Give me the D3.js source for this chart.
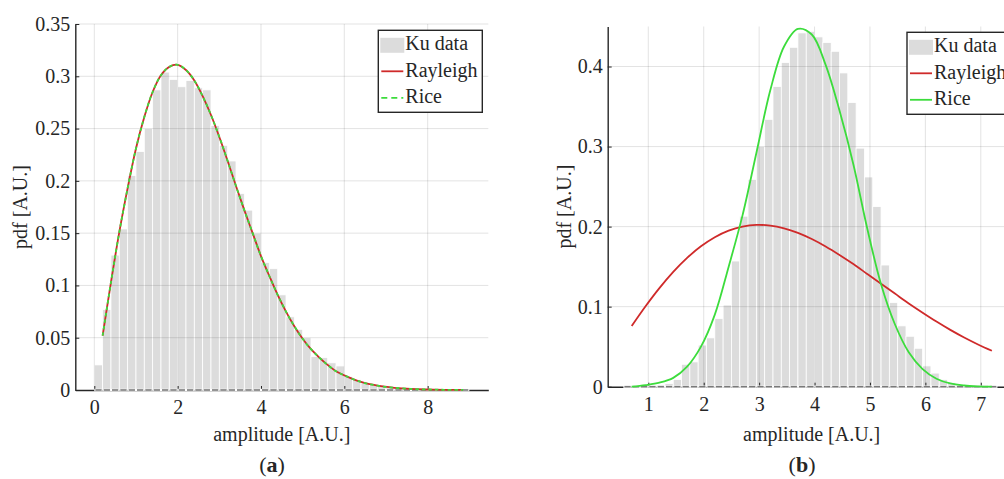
<!DOCTYPE html>
<html>
<head>
<meta charset="utf-8">
<script src="https://cdn.jsdelivr.net/npm/d3@7"></script>
<style>
  body { margin: 0; background: #fff; }
  svg text { font-family: "Liberation Serif", "Times New Roman", serif; fill: #262626; }
</style>
</head>
<body>
<svg id="fig" width="1004" height="479"></svg>
<script>
// ---------- Panel (a) ----------
// Ku amplitude histogram (pdf normalised), bins of 0.2 starting at 0
const histA_start = 0;
const histA_width = 0.2;
const histA_pdf = [
  0.024, 0.077, 0.129, 0.154, 0.205, 0.228, 0.250, 0.287, 0.304, 0.297,
  0.290, 0.296, 0.289, 0.287, 0.253, 0.234, 0.219, 0.188, 0.172, 0.150,
  0.122, 0.116, 0.091, 0.070, 0.058, 0.050, 0.032, 0.031, 0.026, 0.023,
  0.013, 0.010, 0.007, 0.005, 0.004, 0.003, 0.002, 0.001, 0.001, 0.0005,
  0, 0, 0, 0, 0
];
// fitted curves for panel (a)
const fitA_x = [
  0.2, 0.4, 0.6, 0.8, 1.0, 1.2, 1.4, 1.6, 1.8, 2.0,
  2.2, 2.4, 2.6, 2.8, 3.0, 3.2, 3.4, 3.6, 3.8, 4.0,
  4.2, 4.4, 4.6, 4.8, 5.0, 5.2, 5.4, 5.6, 5.8, 6.0,
  6.4, 6.8, 7.2, 7.6, 8.0, 8.4, 8.85
];
const rayleighA = [
  0.052, 0.103, 0.151, 0.193, 0.231, 0.261, 0.285, 0.301, 0.309, 0.311,
  0.306, 0.296, 0.281, 0.263, 0.242, 0.219, 0.195, 0.172, 0.150, 0.128,
  0.109, 0.091, 0.075, 0.061, 0.049, 0.039, 0.031, 0.024, 0.018, 0.014,
  0.0077, 0.0041, 0.0021, 0.0010, 0.0005, 0.0002, 0.0001
];
const riceA = [
  0.052, 0.103, 0.151, 0.193, 0.231, 0.261, 0.285, 0.301, 0.309, 0.311,
  0.306, 0.296, 0.281, 0.263, 0.242, 0.219, 0.195, 0.172, 0.150, 0.128,
  0.109, 0.091, 0.075, 0.061, 0.049, 0.039, 0.031, 0.024, 0.018, 0.014,
  0.0077, 0.0041, 0.0021, 0.0010, 0.0005, 0.0002, 0.0001
];
const ticksA_x = [0, 2, 4, 6, 8];
const ticksA_y = [0, 0.05, 0.1, 0.15, 0.2, 0.25, 0.3, 0.35];
const tickLabelsA_y = ["0", "0.05", "0.1", "0.15", "0.2", "0.25", "0.3", "0.35"];

// ---------- Panel (b) ----------
// Ku amplitude histogram, bins of 0.15 starting at 0.55
const histB_start = 0.55;
const histB_width = 0.15;
const histB_pdf = [
  0, 0, 0, 0.001, 0.002, 0.004, 0.009, 0.028, 0.031, 0.052,
  0.061, 0.085, 0.102, 0.157, 0.213, 0.259, 0.300, 0.334, 0.375, 0.405,
  0.424, 0.442, 0.444, 0.437, 0.430, 0.419, 0.392, 0.355, 0.298, 0.262,
  0.225, 0.152, 0.105, 0.076, 0.063, 0.048, 0.026, 0.017, 0.009, 0.005,
  0.002, 0.001, 0.0005, 0, 0
];
const fitB_x = [
  0.70, 0.95, 1.20, 1.45, 1.70, 1.95, 2.20, 2.45, 2.70, 2.95,
  3.20, 3.45, 3.70, 3.95, 4.20, 4.45, 4.70, 4.95, 5.20, 5.45,
  5.70, 5.95, 6.20, 6.45, 6.70, 6.95, 7.20
];
const rayleighB = [
  0.0757, 0.1004, 0.1231, 0.1434, 0.1609, 0.1754, 0.1868, 0.1950, 0.2000, 0.2021,
  0.2013, 0.1979, 0.1922, 0.1845, 0.1752, 0.1646, 0.1532, 0.1409, 0.1286, 0.1163,
  0.1040, 0.0925, 0.0814, 0.0710, 0.0615, 0.0528, 0.0449
];
const riceB = [
  0.000, 0.002, 0.005, 0.011, 0.025, 0.050, 0.090, 0.150, 0.214, 0.292,
  0.370, 0.425, 0.447, 0.440, 0.402, 0.345, 0.278, 0.198, 0.128, 0.078,
  0.043, 0.022, 0.010, 0.004, 0.0015, 0.0005, 0.0002
];
const ticksB_x = [1, 2, 3, 4, 5, 6, 7];
const ticksB_y = [0, 0.1, 0.2, 0.3, 0.4];
const tickLabelsB_y = ["0", "0.1", "0.2", "0.3", "0.4"];

const legendLabels = ["Ku data", "Rayleigh", "Rice"];

// ---------- drawing ----------
const svg = d3.select("#fig");
const INK = "#262626";
const RED = "#cf2a2a";
const GREEN = "#3cdc3c";

function panel(cfg) {
  const g = svg.append("g");
  const x = d3.scaleLinear().domain(cfg.xDomain).range(cfg.xRange);
  const y = d3.scaleLinear().domain(cfg.yDomain).range(cfg.yRange);
  const y0 = y(0);

  // histogram bins
  const bins = cfg.hist.map((v, i) => ({
    x0: cfg.histStart + i * cfg.histWidth,
    x1: cfg.histStart + (i + 1) * cfg.histWidth,
    v
  }));

  const xAxis = d3.axisBottom(x).tickValues(cfg.xTicks).tickFormat(d3.format("~g"))
    .tickSizeInner(-4).tickSizeOuter(0).tickPadding(10);
  const yAxis = d3.axisLeft(y).tickValues(cfg.yTicks).tickFormat((d, i) => cfg.yTickLabels[i])
    .tickSizeInner(-4).tickSizeOuter(0).tickPadding(5);

  g.append("g").selectAll("rect").data(bins).join("rect")
    .attr("x", d => x(d.x0))
    .attr("width", d => x(d.x1) - x(d.x0))
    .attr("y", d => y(d.v))
    .attr("height", d => y0 - y(d.v))
    .attr("fill", "#dcdcdc")
    .attr("stroke", "#fff")
    .attr("stroke-width", 0.8);

  // grid
  const grid = g.append("g").attr("stroke", INK).attr("stroke-opacity", 0.13).attr("stroke-width", 1);
  grid.selectAll("line.gx").data(cfg.xTicks).join("line")
    .attr("x1", d => x(d)).attr("x2", d => x(d))
    .attr("y1", cfg.yRange[0]).attr("y2", cfg.yRange[1]);
  grid.selectAll("line.gy").data(cfg.yTicks.filter(d => d > 0)).join("line")
    .attr("x1", cfg.xRange[0]).attr("x2", cfg.xRange[1])
    .attr("y1", d => y(d)).attr("y2", d => y(d));

  const ax = g.append("g").attr("transform", `translate(0,${y0})`).call(xAxis);
  const ay = g.append("g").attr("transform", `translate(${cfg.xRange[0]},0)`).call(yAxis);
  [ax, ay].forEach(a => {
    a.select(".domain").attr("stroke", INK).attr("stroke-width", 1.4);
    a.selectAll(".tick line").attr("stroke", INK).attr("stroke-width", 1);
    a.selectAll(".tick text").attr("fill", INK).style("font-size", "20px")
      .style("font-family", '"Liberation Serif", serif');
  });

  // bottom edges of the bars over the baseline
  const base = g.append("g");
  base.selectAll("line.w").data(bins).join("line")
    .attr("x1", d => x(d.x0)).attr("x2", d => x(d.x1))
    .attr("y1", y0).attr("y2", y0)
    .attr("stroke", "#fff").attr("stroke-width", 2.4);
  base.selectAll("line.k").data(bins).join("line")
    .attr("x1", d => x(d.x0) + 1).attr("x2", d => x(d.x1) - 1)
    .attr("y1", y0).attr("y2", y0)
    .attr("stroke", "#7a7a7a").attr("stroke-width", 1.6);

  // fitted curves
  const line = d3.line().x(d => x(d[0])).y(d => y(d[1])).curve(d3.curveCatmullRom.alpha(0.5));
  g.append("path").datum(cfg.fitX.map((v, i) => [v, cfg.rayleigh[i]]))
    .attr("d", line).attr("fill", "none").attr("stroke", RED).attr("stroke-width", 1.8);
  g.append("path").datum(cfg.fitX.map((v, i) => [v, cfg.rice[i]]))
    .attr("d", line).attr("fill", "none").attr("stroke", GREEN).attr("stroke-width", 1.8)
    .attr("stroke-dasharray", cfg.riceDash || null);

  // axis titles
  g.append("text")
    .attr("x", (cfg.xRange[0] + cfg.xRange[1]) / 2).attr("y", 441)
    .attr("text-anchor", "middle").style("font-size", "20px")
    .text("amplitude [A.U.]");
  g.append("text")
    .attr("transform", `translate(${cfg.yTitleX},${(cfg.yRange[0] + cfg.yRange[1]) / 2}) rotate(-90)`)
    .attr("text-anchor", "middle").style("font-size", "20px")
    .text("pdf [A.U.]");

  // legend
  const lg = g.append("g").attr("transform", `translate(${cfg.legend[0]},${cfg.legend[1]})`);
  lg.append("rect").attr("x", 0).attr("y", 0).attr("width", 104).attr("height", 82)
    .attr("fill", "#fff").attr("stroke", INK).attr("stroke-width", 1.4);
  lg.append("rect").attr("x", 2).attr("y", 7.5).attr("width", 24).attr("height", 15).attr("fill", "#dcdcdc");
  lg.append("line").attr("x1", 3).attr("x2", 25).attr("y1", 41).attr("y2", 41)
    .attr("stroke", RED).attr("stroke-width", 1.8);
  lg.append("line").attr("x1", 3).attr("x2", 25).attr("y1", 67.5).attr("y2", 67.5)
    .attr("stroke", GREEN).attr("stroke-width", 1.8)
    .attr("stroke-dasharray", cfg.riceLegendDash || null);
  lg.selectAll("text").data(legendLabels).join("text")
    .attr("x", 27).attr("y", (d, i) => 20 + i * 26.4)
    .style("font-size", "20px").text(d => d);

  // sub-caption
  const cap = g.append("text").attr("x", cfg.captionX).attr("y", 472)
    .attr("text-anchor", "middle").style("font-size", "22px");
  cap.append("tspan").text("(");
  cap.append("tspan").style("font-weight", "bold").text(cfg.caption);
  cap.append("tspan").text(")");
}

panel({
  xDomain: [-0.456, 9.455], xRange: [75.3, 488.3],
  yDomain: [0, 0.35], yRange: [390, 24],
  hist: histA_pdf, histStart: histA_start, histWidth: histA_width,
  fitX: fitA_x, rayleigh: rayleighA, rice: riceA, riceDash: "3.5,3", riceLegendDash: "6,4",
  xTicks: ticksA_x, yTicks: ticksA_y, yTickLabels: tickLabelsA_y,
  yTitleX: 27, legend: [378.3, 30.3], caption: "a", captionX: 272
});

panel({
  xDomain: [0.267, 7.63], xRange: [607.7, 1015.7],
  yDomain: [0, 0.45], yRange: [386.7, 26.5],
  hist: histB_pdf, histStart: histB_start, histWidth: histB_width,
  fitX: fitB_x, rayleigh: rayleighB, rice: riceB,
  xTicks: ticksB_x, yTicks: ticksB_y, yTickLabels: tickLabelsB_y,
  yTitleX: 571, legend: [907, 32.3], caption: "b", captionX: 802
});
</script>
</body>
</html>
